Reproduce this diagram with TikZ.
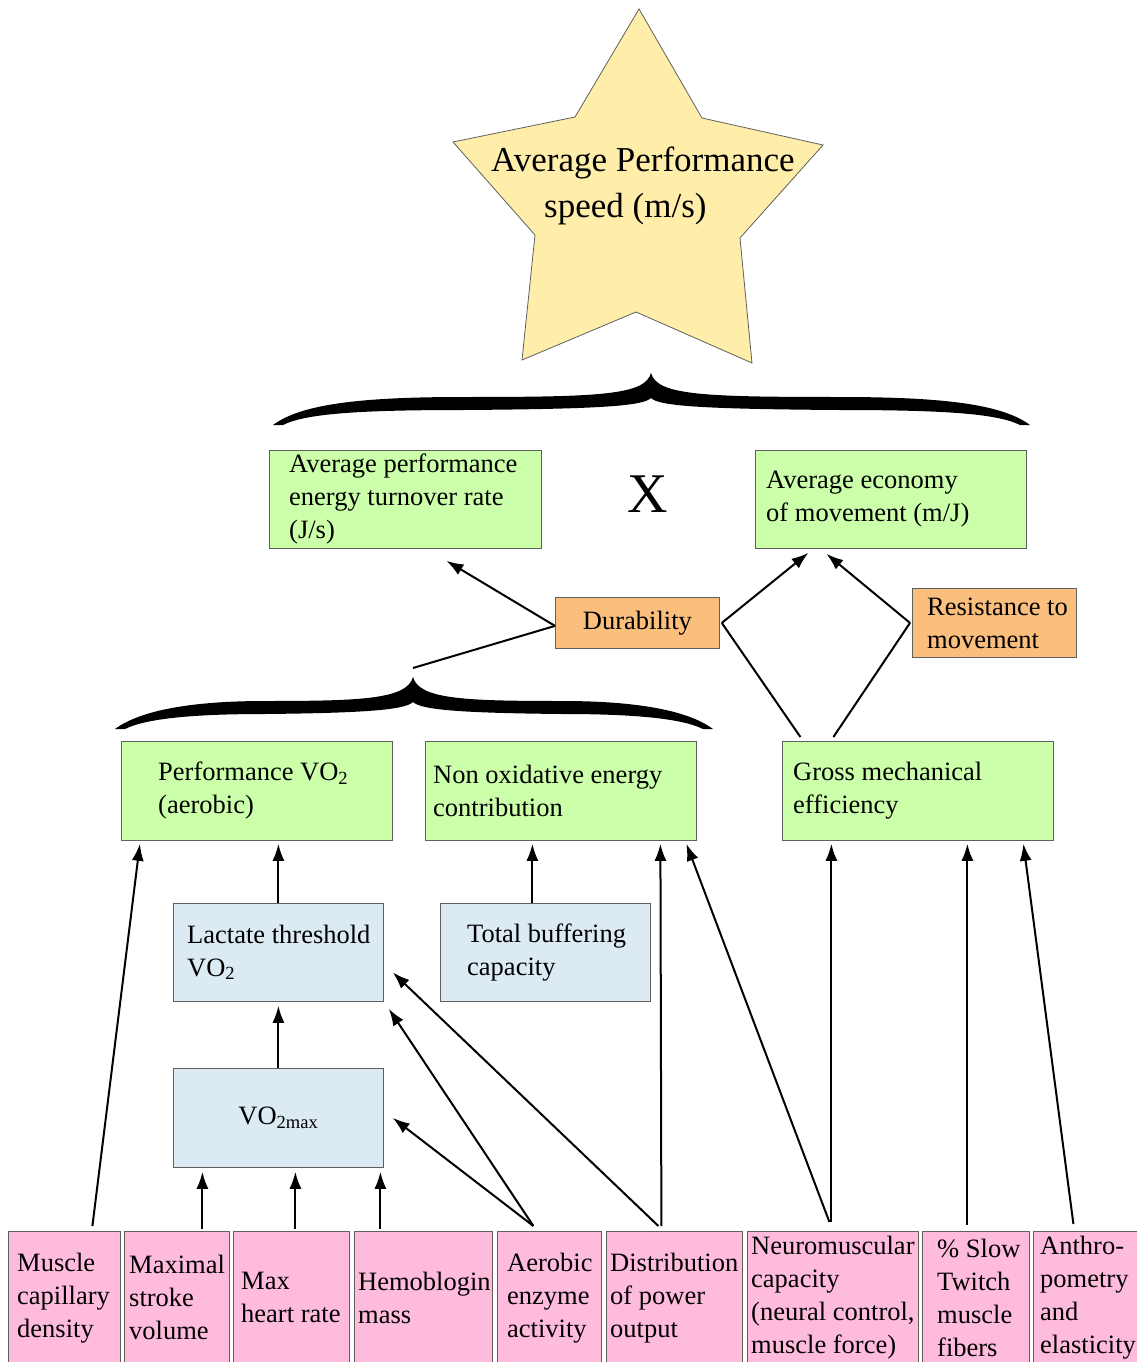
\documentclass[tikz,border=0pt]{standalone}
\usepackage{fontspec}
\setmainfont{Liberation Serif}
\usetikzlibrary{arrows.meta}
\definecolor{gfill}{RGB}{204,255,170}
\definecolor{ofill}{RGB}{250,190,125}
\definecolor{bfill}{RGB}{220,235,243}
\definecolor{pfill}{RGB}{255,187,220}
\definecolor{sfill}{RGB}{255,237,170}
\definecolor{edge}{RGB}{95,95,95}
% #1 left x, #2 tip x, #3 right x, #4 y of body top (y grows downward)
\newcommand\curlybrace[4]{%
\fill ({#1-2},{#4+28}) .. controls ({#1+25},{#4+8}) and ({#1+80},{#4}) .. ({(#1+#2)/2},{#4})
 .. controls ({#2-50},{#4}) and ({#2-6},{#4-2}) .. (#2,{#4-24})
 .. controls ({#2+6},{#4-2}) and ({#2+50},{#4}) .. ({(#2+#3)/2},{#4})
 .. controls ({#3-80},{#4}) and ({#3-25},{#4+8}) .. ({#3+2},{#4+28})
 -- ({#3-8},{#4+28}) .. controls ({#3-30},{#4+17}) and ({#3-80},{#4+13}) .. ({(#2+#3)/2},{#4+13})
 .. controls ({#2+50},{#4+12}) and ({#2+8},{#4+9}) .. (#2,{#4+1})
 .. controls ({#2-8},{#4+9}) and ({#2-50},{#4+12}) .. ({(#1+#2)/2},{#4+13})
 .. controls ({#1+80},{#4+13}) and ({#1+30},{#4+17}) .. ({#1+8},{#4+28}) -- cycle;}
\begin{document}
\begin{tikzpicture}[x=1pt,y=-1pt,
  boxbase/.style={draw=edge, line width=0.8pt, inner sep=0pt, anchor=north west},
  gbox/.style={boxbase, fill=gfill},
  obox/.style={boxbase, fill=ofill},
  bbox/.style={boxbase, fill=bfill},
  pbox/.style={boxbase, fill=pfill, minimum height=133},
  txt/.style={inner sep=0pt, anchor=west, align=left, font=\fontsize{26.5}{33}\selectfont},
  arr/.style={line width=2pt, -{Latex[length=17pt,width=12pt]}},
  ln/.style={line width=2pt}]
\useasboundingbox (0,0) rectangle (1137,1362);
\clip (0,0) rectangle (1137,1362);

% star
\draw[draw=edge, fill=sfill, line width=0.8pt] (639,9) -- (702,118) -- (823,145) -- (740,238) -- (752,363) -- (636,312) -- (522,360) -- (535,235) -- (453,142) -- (575,117) -- cycle;
\node[inner sep=0pt, anchor=west, align=left, font=\fontsize{35}{46}\selectfont] (star) at (491,186) {Average Performance\\\hspace*{53pt}speed (m/s)};

% braces
\curlybrace{275}{651}{1028}{397}
\curlybrace{117}{413}{711}{701}
\coordinate (lbtip) at (413,668);

% top row
\node[gbox, minimum width=272, minimum height=98] (apetr) at (269,450) {};
\node[txt] (apetr-t) at ([xshift=20]apetr.west) {Average performance\\energy turnover rate\\(J/s)};
\node[inner sep=0pt, font=\fontsize{56}{60}\selectfont] (times) at (648,494) {X};
\node[gbox, minimum width=271, minimum height=98] (aem) at (755,450) {};
\node[txt] (aem-t) at ([xshift=11]aem.west) {Average economy\\of movement (m/J)};

% orange
\node[obox, minimum width=164, minimum height=51, font=\fontsize{26.5}{33}\selectfont] (dur) at (555,597) {Durability};
\node[obox, minimum width=164, minimum height=69] (res) at (912,588) {};
\node[txt] (res-t) at ([xshift=15]res.west) {Resistance to\\movement};

% second row
\node[gbox, minimum width=271, minimum height=99] (pvo2) at (121,741) {};
\node[txt] (pvo2-t) at ([xshift=37]pvo2.west) {Performance VO\textsubscript{2}\\(aerobic)};
\node[gbox, minimum width=271, minimum height=99] (nonox) at (425,741) {};
\node[txt] (nonox-t) at ([xshift=8]nonox.west) {Non oxidative energy\\contribution};
\node[gbox, minimum width=271, minimum height=99] (gme) at (782,741) {};
\node[txt] (gme-t) at ([xshift=11]gme.west) {Gross mechanical\\efficiency};

% blue
\node[bbox, minimum width=210, minimum height=98] (lt) at (173,903) {};
\node[txt] (lt-t) at ([xshift=14]lt.west) {Lactate threshold\\VO\textsubscript{2}};
\node[bbox, minimum width=210, minimum height=98] (tbc) at (440,903) {};
\node[txt] (tbc-t) at ([xshift=27]tbc.west) {Total buffering\\capacity};
\node[bbox, minimum width=210, minimum height=99, font=\fontsize{26.5}{33}\selectfont] (vo2max) at (173,1068) {VO\textsubscript{2max}};

% pink
\node[pbox, minimum width=112] (mcd) at (8,1231) {};
\node[txt] (mcd-t) at ([xshift=9]mcd.west) {Muscle\\capillary\\density};
\node[pbox, minimum width=105] (msv) at (124,1231) {};
\node[txt] (msv-t) at ([xshift=5]msv.west) {Maximal\\stroke\\volume};
\node[pbox, minimum width=116] (mhr) at (233,1231) {};
\node[txt] (mhr-t) at ([xshift=8]mhr.west) {Max\\heart rate};
\node[pbox, minimum width=138] (hbm) at (354,1231) {};
\node[txt] (hbm-t) at ([xshift=4]hbm.west) {Hemoblogin\\mass};
\node[pbox, minimum width=104] (aea) at (497,1231) {};
\node[txt] (aea-t) at ([xshift=10]aea.west) {Aerobic\\enzyme\\activity};
\node[pbox, minimum width=136] (dpo) at (606,1231) {};
\node[txt] (dpo-t) at ([xshift=4]dpo.west) {Distribution\\of power\\output};
\node[pbox, minimum width=171] (nmc) at (747,1231) {};
\node[txt] (nmc-t) at ([xshift=4]nmc.west) {Neuromuscular\\capacity\\(neural control,\\muscle force)};
\node[pbox, minimum width=107] (stf) at (922,1231) {};
\node[txt] (stf-t) at ([xshift=15]stf.west) {\% Slow\\Twitch\\muscle\\fibers};
\node[pbox, minimum width=104] (ape) at (1033,1231) {};
\node[txt] (ape-t) at ([xshift=7]ape.west) {Anthro-\\pometry\\and\\elasticity};

% upper connectors
\draw[arr] ([yshift=-3]dur.west) -- ([xshift=41,yshift=-12]apetr.south);
\draw[ln] ([yshift=-3]dur.west) -- (lbtip);
\draw[arr] ([xshift=2]dur.east) -- ([xshift=-82.5,yshift=-4]aem.south);
\draw[ln] ([xshift=2]dur.east) -- ([xshift=-117.5,yshift=4]gme.north);
\draw[arr] ([xshift=-2]res.west) -- ([xshift=-64.5,yshift=-5]aem.south);
\draw[ln] ([xshift=-2]res.west) -- ([xshift=-84.5,yshift=4]gme.north);

% lower connectors
\draw[arr] ([xshift=28,yshift=5]mcd.north) -- ([xshift=-117,yshift=-3]pvo2.south);
\draw[arr] (lt.north) -- ([xshift=21.5,yshift=-3]pvo2.south);
\draw[arr] (vo2max.north) -- ([yshift=-4]lt.south);
\draw[arr] ([xshift=-13]tbc.north) -- ([xshift=-28.5,yshift=-3]nonox.south);
\draw[arr] ([xshift=25.5,yshift=2]msv.north) -- ([xshift=-76,yshift=-4]vo2max.south);
\draw[arr] ([xshift=4,yshift=2]mhr.north) -- ([xshift=17,yshift=-4]vo2max.south);
\draw[arr] ([xshift=-43,yshift=2]hbm.north) -- ([xshift=102,yshift=-4]vo2max.south);
\draw[arr] ([xshift=-16,yshift=5]aea.north) -- ([xshift=9]vo2max.east);
\draw[arr] ([xshift=-16,yshift=5]aea.north) -- ([xshift=5,yshift=-7]lt.south east);
\draw[arr] ([xshift=-16,yshift=5]dpo.north) -- ([xshift=9,yshift=-20]lt.east);
\draw[arr] ([xshift=-13,yshift=5]dpo.north) -- ([xshift=99.5,yshift=-3]nonox.south);
\draw[arr] ([xshift=-3.5,yshift=9]nmc.north) -- ([xshift=125.5,yshift=-3]nonox.south);
\draw[arr] ([xshift=-1.5,yshift=9]nmc.north) -- ([xshift=-86.5,yshift=-3]gme.south);
\draw[arr] ([xshift=-8.5,yshift=6]stf.north) -- ([xshift=49.5,yshift=-3]gme.south);
\draw[arr] ([xshift=-12,yshift=7]ape.north) -- ([xshift=105.5,yshift=-3]gme.south);
\end{tikzpicture}
\end{document}
